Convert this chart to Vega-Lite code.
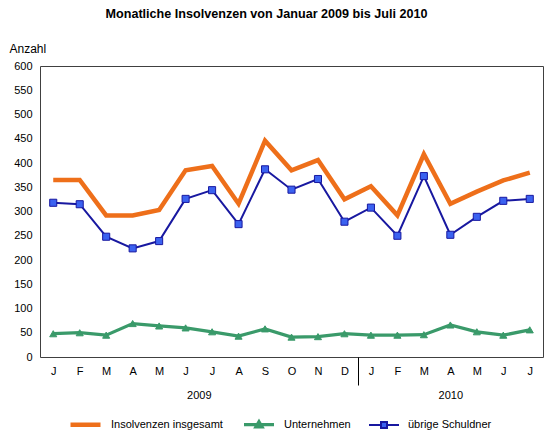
{
  "$schema": "https://vega.github.io/schema/vega-lite/v6.json",
  "width": 503,
  "height": 291,
  "autosize": "none",
  "padding": {"left": 40, "top": 66, "right": 13, "bottom": 75},
  "background": "white",
  "title": {
    "text": "Monatliche Insolvenzen von Januar 2009 bis Juli 2010",
    "font": "Liberation Sans",
    "fontSize": 12.6,
    "fontWeight": "bold",
    "color": "#000000",
    "anchor": "middle",
    "frame": "group",
    "dx": -25,
    "offset": 21
  },
  "data": {
    "values": [
      {"monat": "2009-01", "serie": "Insolvenzen insgesamt", "wert": 365},
      {"monat": "2009-02", "serie": "Insolvenzen insgesamt", "wert": 365},
      {"monat": "2009-03", "serie": "Insolvenzen insgesamt", "wert": 292},
      {"monat": "2009-04", "serie": "Insolvenzen insgesamt", "wert": 292},
      {"monat": "2009-05", "serie": "Insolvenzen insgesamt", "wert": 303},
      {"monat": "2009-06", "serie": "Insolvenzen insgesamt", "wert": 385},
      {"monat": "2009-07", "serie": "Insolvenzen insgesamt", "wert": 394},
      {"monat": "2009-08", "serie": "Insolvenzen insgesamt", "wert": 316},
      {"monat": "2009-09", "serie": "Insolvenzen insgesamt", "wert": 446},
      {"monat": "2009-10", "serie": "Insolvenzen insgesamt", "wert": 385},
      {"monat": "2009-11", "serie": "Insolvenzen insgesamt", "wert": 406},
      {"monat": "2009-12", "serie": "Insolvenzen insgesamt", "wert": 325},
      {"monat": "2010-01", "serie": "Insolvenzen insgesamt", "wert": 352},
      {"monat": "2010-02", "serie": "Insolvenzen insgesamt", "wert": 292},
      {"monat": "2010-03", "serie": "Insolvenzen insgesamt", "wert": 418},
      {"monat": "2010-04", "serie": "Insolvenzen insgesamt", "wert": 316},
      {"monat": "2010-05", "serie": "Insolvenzen insgesamt", "wert": 341},
      {"monat": "2010-06", "serie": "Insolvenzen insgesamt", "wert": 364},
      {"monat": "2010-07", "serie": "Insolvenzen insgesamt", "wert": 380},
      {"monat": "2009-01", "serie": "Unternehmen", "wert": 48},
      {"monat": "2009-02", "serie": "Unternehmen", "wert": 50},
      {"monat": "2009-03", "serie": "Unternehmen", "wert": 45},
      {"monat": "2009-04", "serie": "Unternehmen", "wert": 69},
      {"monat": "2009-05", "serie": "Unternehmen", "wert": 64},
      {"monat": "2009-06", "serie": "Unternehmen", "wert": 60},
      {"monat": "2009-07", "serie": "Unternehmen", "wert": 52},
      {"monat": "2009-08", "serie": "Unternehmen", "wert": 43},
      {"monat": "2009-09", "serie": "Unternehmen", "wert": 58},
      {"monat": "2009-10", "serie": "Unternehmen", "wert": 41},
      {"monat": "2009-11", "serie": "Unternehmen", "wert": 42},
      {"monat": "2009-12", "serie": "Unternehmen", "wert": 48},
      {"monat": "2010-01", "serie": "Unternehmen", "wert": 45},
      {"monat": "2010-02", "serie": "Unternehmen", "wert": 45},
      {"monat": "2010-03", "serie": "Unternehmen", "wert": 46},
      {"monat": "2010-04", "serie": "Unternehmen", "wert": 66},
      {"monat": "2010-05", "serie": "Unternehmen", "wert": 52},
      {"monat": "2010-06", "serie": "Unternehmen", "wert": 45},
      {"monat": "2010-07", "serie": "Unternehmen", "wert": 56},
      {"monat": "2009-01", "serie": "übrige Schuldner", "wert": 318},
      {"monat": "2009-02", "serie": "übrige Schuldner", "wert": 315},
      {"monat": "2009-03", "serie": "übrige Schuldner", "wert": 248},
      {"monat": "2009-04", "serie": "übrige Schuldner", "wert": 224},
      {"monat": "2009-05", "serie": "übrige Schuldner", "wert": 239},
      {"monat": "2009-06", "serie": "übrige Schuldner", "wert": 326},
      {"monat": "2009-07", "serie": "übrige Schuldner", "wert": 344},
      {"monat": "2009-08", "serie": "übrige Schuldner", "wert": 274},
      {"monat": "2009-09", "serie": "übrige Schuldner", "wert": 387},
      {"monat": "2009-10", "serie": "übrige Schuldner", "wert": 345},
      {"monat": "2009-11", "serie": "übrige Schuldner", "wert": 367},
      {"monat": "2009-12", "serie": "übrige Schuldner", "wert": 279},
      {"monat": "2010-01", "serie": "übrige Schuldner", "wert": 308},
      {"monat": "2010-02", "serie": "übrige Schuldner", "wert": 250},
      {"monat": "2010-03", "serie": "übrige Schuldner", "wert": 373},
      {"monat": "2010-04", "serie": "übrige Schuldner", "wert": 252},
      {"monat": "2010-05", "serie": "übrige Schuldner", "wert": 289},
      {"monat": "2010-06", "serie": "übrige Schuldner", "wert": 322},
      {"monat": "2010-07", "serie": "übrige Schuldner", "wert": 326}
    ]
  },
  "encoding": {
    "y": {
      "field": "wert",
      "type": "quantitative",
      "scale": {"domain": [0, 600], "nice": false},
      "axis": {
        "title": "Anzahl",
        "titleAngle": 0,
        "titleAlign": "left",
        "titleBaseline": "middle",
        "titleX": -31,
        "titleY": -18,
        "titleFont": "Liberation Sans",
        "titleFontSize": 12,
        "titleFontWeight": "normal",
        "titleColor": "#000000",
        "values": [0, 50, 100, 150, 200, 250, 300, 350, 400, 450, 500, 550, 600],
        "labelOverlap": false,
        "ticks": false,
        "domain": false,
        "grid": false,
        "labelPadding": 8,
        "labelFont": "Liberation Sans",
        "labelFontSize": 11,
        "labelColor": "#000000"
      }
    }
  },
  "layer": [
    {
      "mark": {"type": "line", "strokeJoin": "miter"},
      "encoding": {
        "x": {
          "field": "monat",
          "type": "ordinal",
          "axis": {
            "orient": "bottom",
            "title": null,
            "ticks": false,
            "domain": false,
            "grid": false,
            "labelAngle": 0,
            "labelPadding": 8,
            "labelFont": "Liberation Sans",
            "labelFontSize": 11,
            "labelColor": "#000000",
            "labelExpr": "['J','F','M','A','M','J','J','A','S','O','N','D'][toNumber(slice(datum.value, 5)) - 1]"
          }
        },
        "color": {
          "field": "serie",
          "type": "nominal",
          "scale": {
            "domain": ["Insolvenzen insgesamt", "Unternehmen", "übrige Schuldner"],
            "range": ["#EE6F1A", "#3A9A6A", "#1818A0"]
          },
          "legend": {
            "orient": "none",
            "legendX": 28,
            "legendY": 341,
            "direction": "horizontal",
            "title": null,
            "padding": 0,
            "symbolSize": 900,
            "symbolType": "M-1,0H1",
            "symbolStrokeWidth": 2,
            "labelFont": "Liberation Sans",
            "labelFontSize": 11,
            "labelColor": "#000000",
            "labelOffset": 8,
            "columnPadding": 14,
            "encode": {
              "symbols": {
                "update": {
                  "shape": {"signal": "datum.value == 'Unternehmen' ? 'M-1,0H1M0,-0.2L0.2,0.14L-0.2,0.14Z' : datum.value == 'übrige Schuldner' ? 'M-1,0H-0.2M0.2,0H1M-0.2,-0.2H0.2V0.2H-0.2Z' : 'M-1,0H1'"},
                  "strokeWidth": {"signal": "datum.value == 'Insolvenzen insgesamt' ? 4.5 : 2"},
                  "fill": {"signal": "datum.value == 'Unternehmen' ? '#3A9A6A' : datum.value == 'übrige Schuldner' ? '#3B62F0' : 'transparent'"}
                }
              }
            }
          }
        },
        "strokeWidth": {
          "field": "serie",
          "type": "nominal",
          "scale": {
            "domain": ["Insolvenzen insgesamt", "Unternehmen", "übrige Schuldner"],
            "range": [4.5, 2, 2]
          },
          "legend": null
        }
      }
    },
    {
      "transform": [{"filter": "datum.serie != 'Insolvenzen insgesamt'"}],
      "mark": {"type": "point", "filled": true, "opacity": 1, "strokeWidth": 1, "size": 50},
      "encoding": {
        "x": {
          "field": "monat",
          "type": "ordinal",
          "axis": {
            "orient": "bottom",
            "title": null,
            "values": ["2009-06", "2009-12", "2010-04"],
            "labelExpr": "datum.value == '2009-06' ? '2009' : datum.value == '2010-04' ? '2010' : ''",
            "domain": false,
            "grid": false,
            "ticks": true,
            "tickSize": 28,
            "tickWidth": 1,
            "tickColor": "#000000",
            "tickOffset": 13.23,
            "tickOpacity": {"condition": {"test": "datum.value == '2009-12'", "value": 1}, "value": 0},
            "labelOffset": {"condition": {"test": "datum.value == '2010-04'", "value": -13.23}, "value": 0},
            "labelPadding": 4,
            "labelAngle": 0,
            "labelFont": "Liberation Sans",
            "labelFontSize": 11,
            "labelColor": "#000000",
            "labelOverlap": false
          }
        },
        "shape": {
          "field": "serie",
          "type": "nominal",
          "scale": {"domain": ["Unternehmen", "übrige Schuldner"], "range": ["triangle-up", "square"]},
          "legend": null
        },
        "fill": {
          "field": "serie",
          "type": "nominal",
          "scale": {"domain": ["Unternehmen", "übrige Schuldner"], "range": ["#3A9A6A", "#3B62F0"]},
          "legend": null
        },
        "stroke": {
          "field": "serie",
          "type": "nominal",
          "scale": {"domain": ["Unternehmen", "übrige Schuldner"], "range": ["#3A9A6A", "#1818A0"]},
          "legend": null
        }
      }
    }
  ],
  "resolve": {"axis": {"x": "independent"}},
  "config": {
    "view": {"stroke": "#404040", "strokeWidth": 1}
  }
}
